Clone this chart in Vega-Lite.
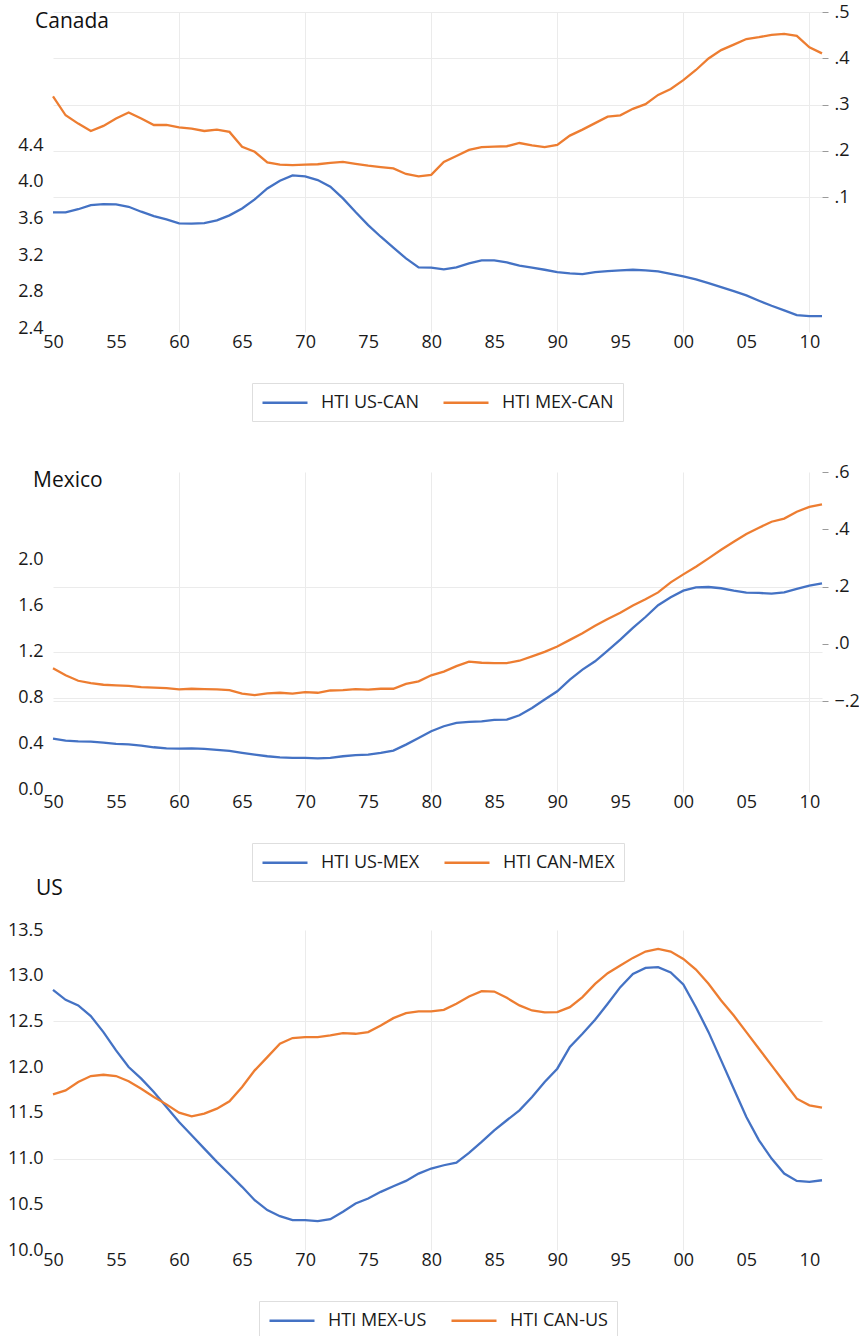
{
  "$schema": "https://vega.github.io/schema/vega-lite/v6.json",
  "background": "white",
  "padding": {"left": 5, "top": 3, "right": 0, "bottom": 0},
  "config": {
    "font": "Open Sans",
    "view": {"stroke": null},
    "axis": {
      "labelFont": "Open Sans",
      "labelFontSize": 18,
      "labelColor": "#1a1a1a",
      "domain": false,
      "ticks": false,
      "title": null,
      "gridColor": "#ebebeb",
      "gridWidth": 1
    },
    "axisLeft": {"minExtent": 48, "labelPadding": 10},
    "axisRight": {"ticks": true, "tickSize": 6, "tickColor": "#9a9a9a", "labelPadding": 6},
    "axisX": {"labelFlush": false, "labelPadding": 1},
    "legend": {
      "orient": "bottom",
      "direction": "horizontal",
      "title": null,
      "symbolType": "M-1,0H4",
      "symbolSize": 324,
      "symbolStrokeWidth": 2.5,
      "labelFont": "Open Sans",
      "labelFontSize": 18,
      "labelColor": "#1a1a1a",
      "labelOffset": 39,
      "columnPadding": 19,
      "strokeColor": "#dedede",
      "padding": 9,
      "offset": 32,
      "layout": {"bottom": {"anchor": "middle"}}
    },
    "title": {
      "font": "Open Sans",
      "fontSize": 21,
      "fontWeight": "normal",
      "color": "#111111",
      "anchor": "start",
      "frame": "group"
    }
  },
  "datasets": {
    "canada": [
      {"year": 1950, "us_can": 3.665, "mex_can": 0.318},
      {"year": 1951, "us_can": 3.665, "mex_can": 0.277},
      {"year": 1952, "us_can": 3.700, "mex_can": 0.259},
      {"year": 1953, "us_can": 3.745, "mex_can": 0.243},
      {"year": 1954, "us_can": 3.756, "mex_can": 0.254},
      {"year": 1955, "us_can": 3.753, "mex_can": 0.270},
      {"year": 1956, "us_can": 3.727, "mex_can": 0.283},
      {"year": 1957, "us_can": 3.673, "mex_can": 0.270},
      {"year": 1958, "us_can": 3.625, "mex_can": 0.256},
      {"year": 1959, "us_can": 3.589, "mex_can": 0.256},
      {"year": 1960, "us_can": 3.545, "mex_can": 0.251},
      {"year": 1961, "us_can": 3.542, "mex_can": 0.248},
      {"year": 1962, "us_can": 3.549, "mex_can": 0.243},
      {"year": 1963, "us_can": 3.578, "mex_can": 0.246},
      {"year": 1964, "us_can": 3.633, "mex_can": 0.241},
      {"year": 1965, "us_can": 3.709, "mex_can": 0.209},
      {"year": 1966, "us_can": 3.807, "mex_can": 0.198},
      {"year": 1967, "us_can": 3.927, "mex_can": 0.175},
      {"year": 1968, "us_can": 4.011, "mex_can": 0.170},
      {"year": 1969, "us_can": 4.069, "mex_can": 0.169},
      {"year": 1970, "us_can": 4.058, "mex_can": 0.170},
      {"year": 1971, "us_can": 4.018, "mex_can": 0.171},
      {"year": 1972, "us_can": 3.945, "mex_can": 0.174},
      {"year": 1973, "us_can": 3.818, "mex_can": 0.176},
      {"year": 1974, "us_can": 3.669, "mex_can": 0.172},
      {"year": 1975, "us_can": 3.527, "mex_can": 0.168},
      {"year": 1976, "us_can": 3.400, "mex_can": 0.165},
      {"year": 1977, "us_can": 3.280, "mex_can": 0.162},
      {"year": 1978, "us_can": 3.164, "mex_can": 0.150},
      {"year": 1979, "us_can": 3.065, "mex_can": 0.145},
      {"year": 1980, "us_can": 3.062, "mex_can": 0.148},
      {"year": 1981, "us_can": 3.044, "mex_can": 0.176},
      {"year": 1982, "us_can": 3.065, "mex_can": 0.189},
      {"year": 1983, "us_can": 3.109, "mex_can": 0.202},
      {"year": 1984, "us_can": 3.142, "mex_can": 0.208},
      {"year": 1985, "us_can": 3.142, "mex_can": 0.209},
      {"year": 1986, "us_can": 3.120, "mex_can": 0.210},
      {"year": 1987, "us_can": 3.084, "mex_can": 0.217},
      {"year": 1988, "us_can": 3.062, "mex_can": 0.212},
      {"year": 1989, "us_can": 3.040, "mex_can": 0.208},
      {"year": 1990, "us_can": 3.015, "mex_can": 0.213},
      {"year": 1991, "us_can": 3.000, "mex_can": 0.233},
      {"year": 1992, "us_can": 2.993, "mex_can": 0.246},
      {"year": 1993, "us_can": 3.015, "mex_can": 0.260},
      {"year": 1994, "us_can": 3.025, "mex_can": 0.274},
      {"year": 1995, "us_can": 3.033, "mex_can": 0.277},
      {"year": 1996, "us_can": 3.040, "mex_can": 0.291},
      {"year": 1997, "us_can": 3.033, "mex_can": 0.301},
      {"year": 1998, "us_can": 3.022, "mex_can": 0.321},
      {"year": 1999, "us_can": 2.996, "mex_can": 0.334},
      {"year": 2000, "us_can": 2.967, "mex_can": 0.353},
      {"year": 2001, "us_can": 2.935, "mex_can": 0.375},
      {"year": 2002, "us_can": 2.895, "mex_can": 0.400},
      {"year": 2003, "us_can": 2.851, "mex_can": 0.418},
      {"year": 2004, "us_can": 2.807, "mex_can": 0.430},
      {"year": 2005, "us_can": 2.760, "mex_can": 0.442},
      {"year": 2006, "us_can": 2.702, "mex_can": 0.446},
      {"year": 2007, "us_can": 2.647, "mex_can": 0.451},
      {"year": 2008, "us_can": 2.596, "mex_can": 0.453},
      {"year": 2009, "us_can": 2.545, "mex_can": 0.449},
      {"year": 2010, "us_can": 2.535, "mex_can": 0.424},
      {"year": 2011, "us_can": 2.535, "mex_can": 0.411}
    ],
    "mexico": [
      {"year": 1950, "us_mex": 0.443, "can_mex": -0.085},
      {"year": 1951, "us_mex": 0.426, "can_mex": -0.110},
      {"year": 1952, "us_mex": 0.420, "can_mex": -0.129},
      {"year": 1953, "us_mex": 0.417, "can_mex": -0.137},
      {"year": 1954, "us_mex": 0.409, "can_mex": -0.143},
      {"year": 1955, "us_mex": 0.397, "can_mex": -0.145},
      {"year": 1956, "us_mex": 0.394, "can_mex": -0.147},
      {"year": 1957, "us_mex": 0.383, "can_mex": -0.151},
      {"year": 1958, "us_mex": 0.368, "can_mex": -0.153},
      {"year": 1959, "us_mex": 0.359, "can_mex": -0.155},
      {"year": 1960, "us_mex": 0.357, "can_mex": -0.159},
      {"year": 1961, "us_mex": 0.359, "can_mex": -0.157},
      {"year": 1962, "us_mex": 0.354, "can_mex": -0.158},
      {"year": 1963, "us_mex": 0.345, "can_mex": -0.159},
      {"year": 1964, "us_mex": 0.336, "can_mex": -0.162},
      {"year": 1965, "us_mex": 0.319, "can_mex": -0.174},
      {"year": 1966, "us_mex": 0.304, "can_mex": -0.179},
      {"year": 1967, "us_mex": 0.290, "can_mex": -0.173},
      {"year": 1968, "us_mex": 0.281, "can_mex": -0.171},
      {"year": 1969, "us_mex": 0.275, "can_mex": -0.174},
      {"year": 1970, "us_mex": 0.275, "can_mex": -0.169},
      {"year": 1971, "us_mex": 0.272, "can_mex": -0.171},
      {"year": 1972, "us_mex": 0.275, "can_mex": -0.163},
      {"year": 1973, "us_mex": 0.290, "can_mex": -0.162},
      {"year": 1974, "us_mex": 0.299, "can_mex": -0.158},
      {"year": 1975, "us_mex": 0.304, "can_mex": -0.160},
      {"year": 1976, "us_mex": 0.319, "can_mex": -0.157},
      {"year": 1977, "us_mex": 0.339, "can_mex": -0.157},
      {"year": 1978, "us_mex": 0.391, "can_mex": -0.140},
      {"year": 1979, "us_mex": 0.449, "can_mex": -0.131},
      {"year": 1980, "us_mex": 0.507, "can_mex": -0.110},
      {"year": 1981, "us_mex": 0.551, "can_mex": -0.097},
      {"year": 1982, "us_mex": 0.580, "can_mex": -0.078},
      {"year": 1983, "us_mex": 0.588, "can_mex": -0.062},
      {"year": 1984, "us_mex": 0.594, "can_mex": -0.066},
      {"year": 1985, "us_mex": 0.606, "can_mex": -0.067},
      {"year": 1986, "us_mex": 0.609, "can_mex": -0.067},
      {"year": 1987, "us_mex": 0.646, "can_mex": -0.059},
      {"year": 1988, "us_mex": 0.710, "can_mex": -0.044},
      {"year": 1989, "us_mex": 0.783, "can_mex": -0.028},
      {"year": 1990, "us_mex": 0.855, "can_mex": -0.009},
      {"year": 1991, "us_mex": 0.957, "can_mex": 0.014},
      {"year": 1992, "us_mex": 1.043, "can_mex": 0.037},
      {"year": 1993, "us_mex": 1.116, "can_mex": 0.063},
      {"year": 1994, "us_mex": 1.209, "can_mex": 0.087},
      {"year": 1995, "us_mex": 1.304, "can_mex": 0.109},
      {"year": 1996, "us_mex": 1.406, "can_mex": 0.134},
      {"year": 1997, "us_mex": 1.501, "can_mex": 0.156},
      {"year": 1998, "us_mex": 1.603, "can_mex": 0.180},
      {"year": 1999, "us_mex": 1.672, "can_mex": 0.215},
      {"year": 2000, "us_mex": 1.730, "can_mex": 0.243},
      {"year": 2001, "us_mex": 1.759, "can_mex": 0.270},
      {"year": 2002, "us_mex": 1.762, "can_mex": 0.299},
      {"year": 2003, "us_mex": 1.751, "can_mex": 0.329},
      {"year": 2004, "us_mex": 1.730, "can_mex": 0.357},
      {"year": 2005, "us_mex": 1.713, "can_mex": 0.384},
      {"year": 2006, "us_mex": 1.710, "can_mex": 0.406},
      {"year": 2007, "us_mex": 1.704, "can_mex": 0.427},
      {"year": 2008, "us_mex": 1.716, "can_mex": 0.438},
      {"year": 2009, "us_mex": 1.745, "can_mex": 0.462},
      {"year": 2010, "us_mex": 1.774, "can_mex": 0.479},
      {"year": 2011, "us_mex": 1.794, "can_mex": 0.488}
    ],
    "us": [
      {"year": 1950, "mex_us": 12.846, "can_us": 11.703},
      {"year": 1951, "mex_us": 12.736, "can_us": 11.746},
      {"year": 1952, "mex_us": 12.675, "can_us": 11.837},
      {"year": 1953, "mex_us": 12.558, "can_us": 11.903},
      {"year": 1954, "mex_us": 12.383, "can_us": 11.917},
      {"year": 1955, "mex_us": 12.183, "can_us": 11.903},
      {"year": 1956, "mex_us": 12.001, "can_us": 11.845},
      {"year": 1957, "mex_us": 11.874, "can_us": 11.764},
      {"year": 1958, "mex_us": 11.728, "can_us": 11.673},
      {"year": 1959, "mex_us": 11.564, "can_us": 11.593},
      {"year": 1960, "mex_us": 11.400, "can_us": 11.502},
      {"year": 1961, "mex_us": 11.255, "can_us": 11.462},
      {"year": 1962, "mex_us": 11.109, "can_us": 11.491},
      {"year": 1963, "mex_us": 10.964, "can_us": 11.546},
      {"year": 1964, "mex_us": 10.829, "can_us": 11.626},
      {"year": 1965, "mex_us": 10.691, "can_us": 11.783},
      {"year": 1966, "mex_us": 10.545, "can_us": 11.965},
      {"year": 1967, "mex_us": 10.436, "can_us": 12.110},
      {"year": 1968, "mex_us": 10.370, "can_us": 12.256},
      {"year": 1969, "mex_us": 10.327, "can_us": 12.318},
      {"year": 1970, "mex_us": 10.327, "can_us": 12.329},
      {"year": 1971, "mex_us": 10.316, "can_us": 12.329},
      {"year": 1972, "mex_us": 10.337, "can_us": 12.347},
      {"year": 1973, "mex_us": 10.418, "can_us": 12.372},
      {"year": 1974, "mex_us": 10.509, "can_us": 12.365},
      {"year": 1975, "mex_us": 10.563, "can_us": 12.383},
      {"year": 1976, "mex_us": 10.636, "can_us": 12.456},
      {"year": 1977, "mex_us": 10.698, "can_us": 12.536},
      {"year": 1978, "mex_us": 10.756, "can_us": 12.591},
      {"year": 1979, "mex_us": 10.836, "can_us": 12.609},
      {"year": 1980, "mex_us": 10.891, "can_us": 12.609},
      {"year": 1981, "mex_us": 10.927, "can_us": 12.627},
      {"year": 1982, "mex_us": 10.956, "can_us": 12.693},
      {"year": 1983, "mex_us": 11.062, "can_us": 12.773},
      {"year": 1984, "mex_us": 11.182, "can_us": 12.831},
      {"year": 1985, "mex_us": 11.309, "can_us": 12.827},
      {"year": 1986, "mex_us": 11.419, "can_us": 12.758},
      {"year": 1987, "mex_us": 11.528, "can_us": 12.675},
      {"year": 1988, "mex_us": 11.673, "can_us": 12.620},
      {"year": 1989, "mex_us": 11.837, "can_us": 12.598},
      {"year": 1990, "mex_us": 11.983, "can_us": 12.602},
      {"year": 1991, "mex_us": 12.220, "can_us": 12.656},
      {"year": 1992, "mex_us": 12.365, "can_us": 12.766},
      {"year": 1993, "mex_us": 12.518, "can_us": 12.911},
      {"year": 1994, "mex_us": 12.693, "can_us": 13.028},
      {"year": 1995, "mex_us": 12.875, "can_us": 13.111},
      {"year": 1996, "mex_us": 13.020, "can_us": 13.195},
      {"year": 1997, "mex_us": 13.086, "can_us": 13.264},
      {"year": 1998, "mex_us": 13.093, "can_us": 13.293},
      {"year": 1999, "mex_us": 13.035, "can_us": 13.264},
      {"year": 2000, "mex_us": 12.904, "can_us": 13.184},
      {"year": 2001, "mex_us": 12.656, "can_us": 13.068},
      {"year": 2002, "mex_us": 12.383, "can_us": 12.911},
      {"year": 2003, "mex_us": 12.074, "can_us": 12.729},
      {"year": 2004, "mex_us": 11.764, "can_us": 12.565},
      {"year": 2005, "mex_us": 11.455, "can_us": 12.383},
      {"year": 2006, "mex_us": 11.200, "can_us": 12.201},
      {"year": 2007, "mex_us": 11.000, "can_us": 12.019},
      {"year": 2008, "mex_us": 10.836, "can_us": 11.837},
      {"year": 2009, "mex_us": 10.756, "can_us": 11.655},
      {"year": 2010, "mex_us": 10.745, "can_us": 11.582},
      {"year": 2011, "mex_us": 10.763, "can_us": 11.557}
    ]
  },
  "spacing": -4,
  "resolve": {"scale": {"color": "independent"}, "legend": {"color": "independent"}},
  "vconcat": [
    {
      "spacing": 41,
      "resolve": {"scale": {"color": "independent"}, "legend": {"color": "independent"}},
      "vconcat": [
        {
          "width": 769,
          "height": 320,
          "title": {"text": "Canada", "dx": -18, "dy": 33},
          "data": {"name": "canada"},
          "encoding": {
            "x": {
              "field": "year", "type": "quantitative",
              "scale": {"domain": [1950, 2011], "nice": false, "zero": false},
              "axis": {
                "values": [1950, 1955, 1960, 1965, 1970, 1975, 1980, 1985, 1990, 1995, 2000, 2005, 2010],
                "labelExpr": "substring(toString(datum.value), 2)",
                "grid": true,
                "gridOpacity": {"condition": {"test": "datum.value % 10 == 0 && datum.value > 1950", "value": 1}, "value": 0}
              }
            }
          },
          "layer": [
            {
              "mark": {"type": "line", "strokeWidth": 2.3},
              "encoding": {
                "y": {
                  "field": "us_can", "type": "quantitative",
                  "scale": {"domain": [2.361, 5.851], "nice": false, "zero": false},
                  "axis": {"orient": "left", "values": [2.4, 2.8, 3.2, 3.6, 4.0, 4.4], "format": ".1f", "grid": false}
                },
                "color": {
                  "datum": "HTI US-CAN", "type": "nominal",
                  "scale": {"domain": ["HTI US-CAN", "HTI MEX-CAN"], "range": ["#4472C4", "#ED7D31"]}
                }
              }
            },
            {
              "mark": {"type": "line", "strokeWidth": 2.3},
              "encoding": {
                "y": {
                  "field": "mex_can", "type": "quantitative",
                  "scale": {"domain": [-0.192, 0.5005], "nice": false, "zero": false},
                  "axis": {
                    "orient": "right", "values": [0.1, 0.2, 0.3, 0.4, 0.5],
                    "labelExpr": "replace(format(datum.value, '.1f'), '0.', '.')",
                    "grid": true
                  }
                },
                "color": {"datum": "HTI MEX-CAN", "type": "nominal"}
              }
            }
          ],
          "resolve": {"scale": {"y": "independent"}}
        },
        {
          "width": 769,
          "height": 320,
          "title": {"text": "Mexico", "dx": -20, "dy": 32},
          "data": {"name": "mexico"},
          "encoding": {
            "x": {
              "field": "year", "type": "quantitative",
              "scale": {"domain": [1950, 2011], "nice": false, "zero": false},
              "axis": {
                "values": [1950, 1955, 1960, 1965, 1970, 1975, 1980, 1985, 1990, 1995, 2000, 2005, 2010],
                "labelExpr": "substring(toString(datum.value), 2)",
                "grid": true,
                "gridOpacity": {"condition": {"test": "datum.value % 10 == 0 && datum.value > 1950", "value": 1}, "value": 0}
              }
            }
          },
          "layer": [
            {
              "mark": {"type": "line", "strokeWidth": 2.3},
              "encoding": {
                "y": {
                  "field": "us_mex", "type": "quantitative",
                  "scale": {"domain": [-0.021, 2.762], "nice": false, "zero": false},
                  "axis": {
                    "orient": "left", "values": [0, 0.4, 0.8, 1.2, 1.6, 2.0], "format": ".1f",
                    "grid": true,
                    "gridOpacity": {"condition": {"test": "datum.value == 0.8 || datum.value == 1.2", "value": 1}, "value": 0}
                  }
                },
                "color": {
                  "datum": "HTI US-MEX", "type": "nominal",
                  "scale": {"domain": ["HTI US-MEX", "HTI CAN-MEX"], "range": ["#4472C4", "#ED7D31"]}
                }
              }
            },
            {
              "mark": {"type": "line", "strokeWidth": 2.3},
              "encoding": {
                "y": {
                  "field": "can_mex", "type": "quantitative",
                  "scale": {"domain": [-0.518, 0.601], "nice": false, "zero": false},
                  "axis": {
                    "orient": "right", "values": [-0.2, 0, 0.2, 0.4, 0.6],
                    "labelExpr": "replace(format(datum.value, '.1f'), '0.', '.')",
                    "grid": true,
                    "gridOpacity": {"condition": {"test": "datum.value == 0.2 || datum.value == -0.2", "value": 1}, "value": 0}
                  }
                },
                "color": {"datum": "HTI CAN-MEX", "type": "nominal"}
              }
            }
          ],
          "resolve": {"scale": {"y": "independent"}}
        }
      ]
    },
    {
      "width": 769,
      "height": 320,
      "title": {"text": "US", "dx": -17, "dy": -18},
      "data": {"name": "us"},
      "encoding": {
        "x": {
          "field": "year", "type": "quantitative",
          "scale": {"domain": [1950, 2011], "nice": false, "zero": false},
          "axis": {
            "values": [1950, 1955, 1960, 1965, 1970, 1975, 1980, 1985, 1990, 1995, 2000, 2005, 2010],
            "labelExpr": "substring(toString(datum.value), 2)",
            "grid": true,
            "gridOpacity": {"condition": {"test": "datum.value % 10 == 0 && datum.value >= 1970 && datum.value <= 2000", "value": 1}, "value": 0}
          }
        },
        "y": {
          "type": "quantitative",
          "scale": {"domain": [10, 13.5], "nice": false, "zero": false},
          "axis": {
            "values": [10, 10.5, 11, 11.5, 12, 12.5, 13, 13.5], "format": ".1f",
            "grid": true,
            "gridOpacity": {"condition": {"test": "datum.value == 11 || datum.value == 12.5", "value": 1}, "value": 0}
          }
        }
      },
      "layer": [
        {
          "mark": {"type": "line", "strokeWidth": 2.3},
          "encoding": {
            "y": {"field": "mex_us"},
            "color": {
              "datum": "HTI MEX-US", "type": "nominal",
              "scale": {"domain": ["HTI MEX-US", "HTI CAN-US"], "range": ["#4472C4", "#ED7D31"]}
            }
          }
        },
        {
          "mark": {"type": "line", "strokeWidth": 2.3},
          "encoding": {
            "y": {"field": "can_us"},
            "color": {"datum": "HTI CAN-US", "type": "nominal"}
          }
        }
      ]
    }
  ]
}
